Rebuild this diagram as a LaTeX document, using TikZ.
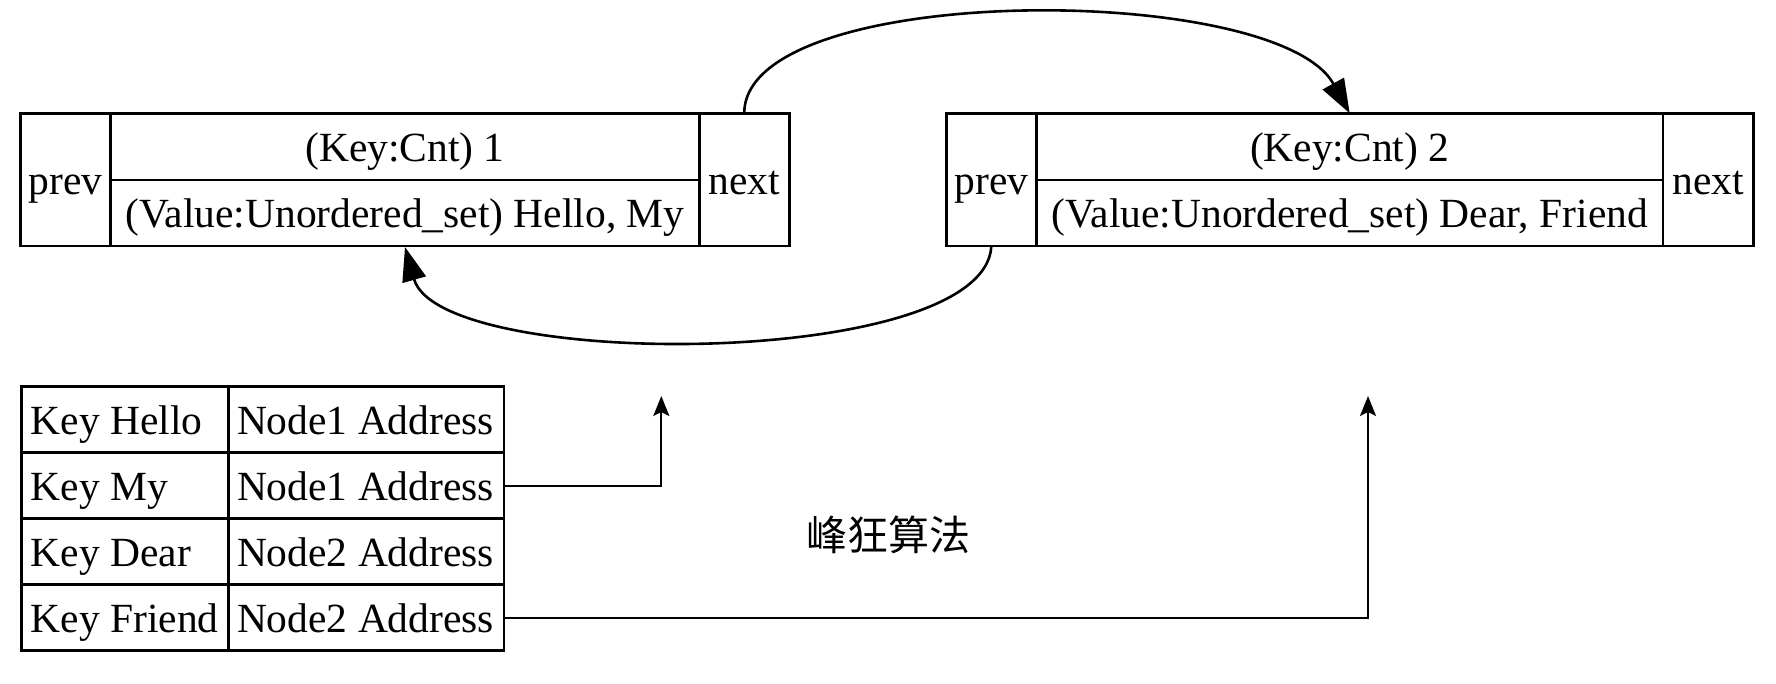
\documentclass[tikz,border=0pt]{standalone}
\usepackage{fontspec}
\setmainfont{Liberation Serif}
\newfontfamily\cjk{Noto Sans CJK SC}
\usetikzlibrary{arrows.meta}
\begin{document}
\begin{tikzpicture}[x=1pt,y=-1pt,
  txt/.style={font=\fontsize{41.5}{50}\selectfont, text height=29pt, text depth=0pt},
  cell/.style={txt, draw, line width=2.7pt, inner sep=0pt, outer sep=0pt, anchor=north west},
  curve/.style={line width=2.6pt, -{Triangle[length=34pt,width=24pt]}},
  link/.style={line width=2pt, -{Stealth[length=20pt,width=16pt,inset=4pt]}}]
\useasboundingbox (0,0) rectangle (1776,683);
\fill[white] (0,0) rectangle (1776,683);
% node 1
\node[cell, minimum width=90.1pt, minimum height=132.7pt] (n1prev) at (20.7,113.3) {prev};
\node[cell, minimum width=588.4pt, minimum height=66.7pt] (n1key) at (110.8,113.3) {(Key:Cnt) 1};
\node[cell, minimum width=588.4pt, minimum height=66pt] (n1val) at (110.8,180) {(Value:Unordered\_set) Hello, My};
\node[cell, minimum width=90.1pt, minimum height=132.7pt] (n1next) at (699.2,113.3) {next};
% node 2
\node[cell, minimum width=89.9pt, minimum height=132.7pt] (n2prev) at (946.4,113.3) {prev};
\node[cell, minimum width=626.8pt, minimum height=66.7pt] (n2key) at (1036.3,113.3) {(Key:Cnt) 2};
\node[cell, minimum width=626.8pt, minimum height=66pt] (n2val) at (1036.3,180) {(Value:Unordered\_set) Dear, Friend};
\node[cell, minimum width=90.5pt, minimum height=132.7pt] (n2next) at (1663.1,113.3) {next};
% table
\tikzset{c1/.style={cell, inner xsep=9.5pt, minimum height=66pt},
         c2/.style={cell, inner xsep=8.5pt, minimum height=66pt}}
\newcommand\ca[1]{\makebox[188.3pt][l]{#1}}
\newcommand\cb[1]{\makebox[258.5pt][l]{#1}}
\node[c1] (r1c1) at (21.2,386.7) {\ca{Key Hello}};
\node[c2] (r1c2) at (228.5,386.7) {\cb{Node1 Address}};
\node[c1] (r2c1) at (21.2,452.7) {\ca{Key My}};
\node[c2] (r2c2) at (228.5,452.7) {\cb{Node1 Address}};
\node[c1] (r3c1) at (21.2,518.7) {\ca{Key Dear}};
\node[c2] (r3c2) at (228.5,518.7) {\cb{Node2 Address}};
\node[c1] (r4c1) at (21.2,584.7) {\ca{Key Friend}};
\node[c2] (r4c2) at (228.5,584.7) {\cb{Node2 Address}};
% label
\node[font=\cjk\fontsize{41}{48}\selectfont, inner sep=0pt] (algo) at (888,535) {峰狂算法};
% connectors
\draw[curve] (n1next.north) .. controls +(0,-132) and +(-73,-132) .. (n2key.north);
\draw[curve] (n2prev.south) .. controls +(-6,124) and +(35,124) .. ([yshift=-1pt]n1val.south);
\coordinate (t1) at (661.3,396);
\coordinate (t2) at (1368,396);
\draw[link] (r2c2.east) -| (t1);
\draw[link] (r4c2.east) -| (t2);
\end{tikzpicture}
\end{document}
